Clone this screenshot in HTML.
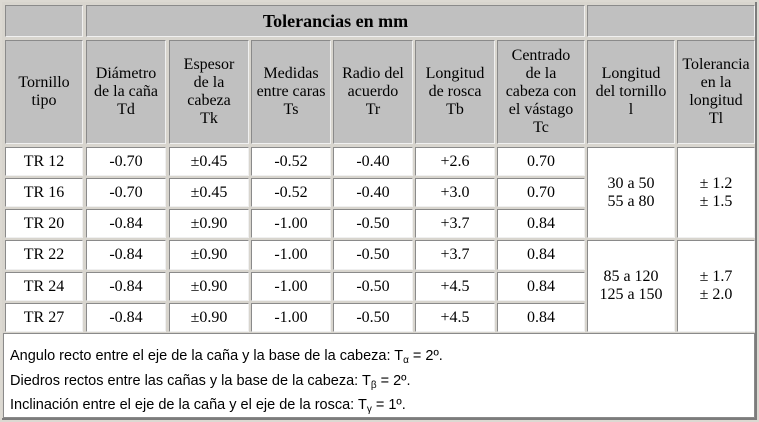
<!DOCTYPE html>
<html><head><meta charset="utf-8"><style>
html,body{margin:0;width:759px;height:422px;overflow:hidden;}
body{background:#dcd9d2;position:relative;font-family:"Liberation Serif",serif;}
.t{position:absolute;left:2px;top:2px;width:753px;height:416px;background:#d8d5ce;border-right:2px solid #7c7c7c;border-bottom:2px solid #7c7c7c;}
.c{position:absolute;box-sizing:border-box;border:1px solid #8a8a8a;border-right-color:#f0f0f0;border-bottom-color:#f0f0f0;display:flex;align-items:center;justify-content:center;text-align:center;font-size:16px;line-height:18px;color:#000;}
.h{background:#c0c0c0;}
.w{background:#fff;}
.f{position:absolute;left:3px;top:333px;width:752px;height:85px;background:#fff;border:1px solid #8a8a8a;box-sizing:border-box;font-family:"Liberation Sans",sans-serif;font-size:14.5px;padding:10px 0 0 6px;line-height:24.5px;overflow:hidden;}
sub{font-size:10px;vertical-align:-3px;line-height:0;}
</style></head><body>
<div class="t"></div>
<div id="g"></div>
<div class="f">Angulo recto entre el eje de la caña y la base de la cabeza: T<sub>α</sub> = 2º.<br>Diedros rectos entre las cañas y la base de la cabeza: T<sub>β</sub> = 2º.<br>Inclinación entre el eje de la caña y el eje de la rosca: T<sub>γ</sub> = 1º.</div>
<script>
var X=[[5,83],[86,166],[169,249],[251,331],[333,413],[415,495],[497,585],[587,675],[677,755]];
var R=[[147,176],[178,207],[209,238],[240,270],[272,301],[303,332]];
var h="";
function cell(x1,x2,y1,y2,cls,txt,st){h+='<div class="c '+cls+'" style="left:'+x1+'px;width:'+(x2-x1)+'px;top:'+y1+'px;height:'+(y2-y1)+'px;'+(st||'')+'">'+txt+'</div>';}
cell(5,83,5,37,'h','');
cell(86,585,5,37,'h','<b style="font-size:18px">Tolerancias en mm</b>');
cell(587,755,5,37,'h','');
var hd=["Tornillo<br>tipo","Diámetro<br>de la caña<br>Td","Espesor<br>de la<br>cabeza<br>Tk","Medidas<br>entre caras<br>Ts","Radio del<br>acuerdo<br>Tr","Longitud<br>de rosca<br>Tb","Centrado<br>de la<br>cabeza con<br>el vástago<br>Tc","Longitud<br>del tornillo<br>l","Tolerancia<br>en la<br>longitud<br>Tl"];
for(var i=0;i<9;i++)cell(X[i][0],X[i][1],40,144,'h',hd[i]);
var d=[["TR 12","-0.70","±0.45","-0.52","-0.40","+2.6","0.70"],["TR 16","-0.70","±0.45","-0.52","-0.40","+3.0","0.70"],["TR 20","-0.84","±0.90","-1.00","-0.50","+3.7","0.84"],["TR 22","-0.84","±0.90","-1.00","-0.50","+3.7","0.84"],["TR 24","-0.84","±0.90","-1.00","-0.50","+4.5","0.84"],["TR 27","-0.84","±0.90","-1.00","-0.50","+4.5","0.84"]];
for(var r=0;r<6;r++)for(var i=0;i<7;i++)cell(X[i][0],X[i][1],R[r][0],R[r][1],'w',d[r][i]);
cell(587,675,147,238,'w','30 a 50<br>55 a 80');
cell(677,755,147,238,'w','± 1.2<br>± 1.5');
cell(587,675,240,332,'w','85 a 120<br>125 a 150');
cell(677,755,240,332,'w','± 1.7<br>± 2.0');
document.getElementById('g').innerHTML=h;
</script>
</body></html>
